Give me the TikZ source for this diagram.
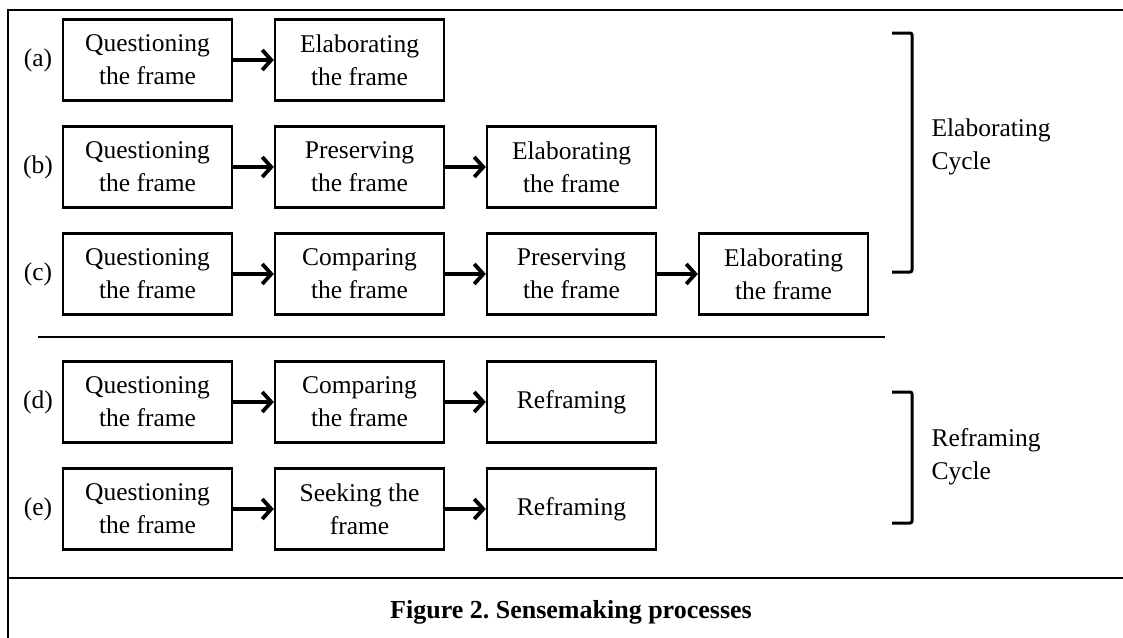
\documentclass[tikz,border=0pt]{standalone}
\usepackage{fontspec}
\setmainfont{Liberation Serif}
\usetikzlibrary{arrows.meta}

\begin{document}
\begin{tikzpicture}[x=1pt, y=-1pt, node distance=212pt,
    stage/.style={rectangle, draw, line width=2.4pt, minimum width=169pt, minimum height=81pt, inner sep=0pt, align=center},
    flow/.style={-{Straight Barb[length=9pt,width=20pt,line width=3.8pt]}, line width=3.4pt}]
        \tikzstyle{every node}=[font=\fontsize{25.5}{33}\selectfont]
        \useasboundingbox (0,0) rectangle (1123,637);

          % frame and caption
          \draw[line width=2pt] (8,640) -- (8,10) -- (1126,10);
          \draw[line width=2pt] (8,578) -- (1126,578);
          \node[font=\fontsize{26}{30}\selectfont\bfseries] (cap) at (571,612) {Figure 2.\ Sensemaking processes};

          % (a)
          \node[stage] (a1) at (147.5,60) {Questioning\\the frame};
          \node[stage] (a2) [right of=a1] {Elaborating\\the frame};
          % (b)
          \node[stage] (b1) at (147.5,167) {Questioning\\the frame};
          \node[stage] (b2) [right of=b1] {Preserving\\the frame};
          \node[stage] (b3) [right of=b2] {Elaborating\\the frame};
          % (c)
          \node[stage] (c1) at (147.5,274) {Questioning\\the frame};
          \node[stage] (c2) [right of=c1] {Comparing\\the frame};
          \node[stage] (c3) [right of=c2] {Preserving\\the frame};
          \node[stage] (c4) [right of=c3] {Elaborating\\the frame};
          % (d)
          \node[stage] (d1) at (147.5,402) {Questioning\\the frame};
          \node[stage] (d2) [right of=d1] {Comparing\\the frame};
          \node[stage] (d3) [right of=d2] {Reframing};
          % (e)
          \node[stage] (e1) at (147.5,509) {Questioning\\the frame};
          \node[stage] (e2) [right of=e1] {Seeking the\\frame};
          \node[stage] (e3) [right of=e2] {Reframing};

          % row labels
          \node (la) [left of=a1, node distance=109.5pt] {(a)};
          \node (lb) [left of=b1, node distance=109.5pt] {(b)};
          \node (lc) [left of=c1, node distance=109.5pt] {(c)};
          \node (ld) [left of=d1, node distance=109.5pt] {(d)};
          \node (le) [left of=e1, node distance=109.5pt] {(e)};

          \path[flow]
            (a1) edge (a2)
            (b1) edge (b2)
            (b2) edge (b3)
            (c1) edge (c2)
            (c2) edge (c3)
            (c3) edge (c4)
            (d1) edge (d2)
            (d2) edge (d3)
            (e1) edge (e2)
            (e2) edge (e3);

          % split between the two cycles
          \draw[line width=2pt] (38,337) -- (885,337);

          % cycle brackets
          \draw[line width=3pt, rounded corners=2pt] (892,33) -- (912,33) -- (912,272) -- (892,272);
          \draw[line width=3pt, rounded corners=2pt] (892,392) -- (912,392) -- (912,523) -- (892,523);
          \node[anchor=west, align=left] (elab) at (928,147) {Elaborating\\Cycle};
          \node[anchor=west, align=left] (refr) at (928,457) {Reframing\\Cycle};

        \end{tikzpicture}
\end{document}
